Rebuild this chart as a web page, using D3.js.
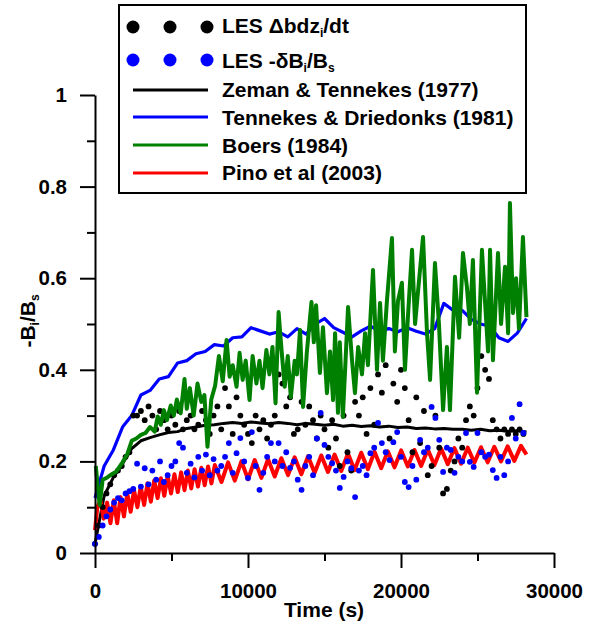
<!DOCTYPE html>
<html>
<head>
<meta charset="utf-8">
<script src="https://cdn.jsdelivr.net/npm/d3@7"></script>
<style>
body { margin: 0; background: #fff; }
text { font-family: "Liberation Sans", Arial, sans-serif; font-weight: bold; fill: #000; }
</style>
</head>
<body>
<script>
// Tick values
var xTicks = [0, 10000, 20000, 30000];
var xMinor = [5000, 15000, 25000];
var yTicks = [0, 0.2, 0.4, 0.6, 0.8, 1];
var yMinor = [0.1, 0.3, 0.5, 0.7, 0.9];

// Model curves share one time grid (s)
var modelTime = [0, 600, 1200, 1800, 2400, 3000, 3600, 4200, 4800, 5400, 6000, 6600, 7200, 7800, 8400, 9000,
	9600, 10200, 10800, 11400, 12000, 12600, 13200, 13800, 14400, 15000, 15600, 16200, 16800, 17400, 18000, 18600,
	19200, 19800, 20400, 21000, 21600, 22200, 22800, 23400, 24000, 24600, 25200, 25800, 26400, 27000, 27600, 28200];

// Tennekes & Driedonks (1981)
var tennekesDriedonks = [0.12, 0.19, 0.225, 0.275, 0.30, 0.345, 0.355, 0.38, 0.385, 0.415, 0.42, 0.435, 0.44, 0.455, 0.452, 0.47,
	0.472, 0.492, 0.485, 0.478, 0.483, 0.472, 0.49, 0.478, 0.50, 0.512, 0.492, 0.482, 0.472, 0.485, 0.495, 0.485,
	0.49, 0.483, 0.492, 0.484, 0.478, 0.49, 0.545, 0.53, 0.53, 0.51, 0.50, 0.495, 0.47, 0.462, 0.48, 0.512];

// Zeman & Tennekes (1977)
var zemanTennekes = [0.02, 0.125, 0.165, 0.195, 0.228, 0.245, 0.252, 0.258, 0.263, 0.265, 0.272, 0.275, 0.279, 0.28, 0.283, 0.285,
	0.283, 0.286, 0.284, 0.282, 0.285, 0.283, 0.28, 0.283, 0.281, 0.279, 0.281, 0.277, 0.279, 0.276, 0.278, 0.275,
	0.277, 0.274, 0.275, 0.272, 0.273, 0.271, 0.272, 0.27, 0.27, 0.268, 0.27, 0.267, 0.268, 0.266, 0.267, 0.264];

// Boers (1984)
var boersTime = [50, 300, 500, 800, 1100, 1400, 1800, 2100, 2400, 2700, 3000, 3300, 3600, 3900, 4100, 4300, 4500, 4700, 4950,
	5150, 5350, 5600, 5850, 6000, 6200, 6450, 6700, 6950, 7150, 7350, 7600, 7850, 8100, 8350, 8600, 8800, 9000, 9250,
	9450, 9650, 9850, 10100, 10300, 10550, 10750, 10950, 11200, 11400, 11600, 11800, 12000, 12200, 12400, 12600, 12800,
	13050, 13200, 13400, 13600, 13850, 14150, 14300, 14450, 14700, 14900, 15160, 15360, 15560, 15690, 15880, 16000,
	16200, 16540, 16800, 16990, 17200, 17450, 17650, 17840, 18170, 18430, 18630, 18820, 19080, 19410, 19600, 19800,
	20060, 20260, 20460, 20720, 20920, 21110, 21440, 21700, 21900, 22220, 22480, 22750, 23000, 23200, 23530, 23800,
	24050, 24310, 24500, 24700, 24970, 25290, 25490, 25690, 25820, 26010, 26340, 26540, 26800, 27000, 27120, 27320,
	27520, 27710, 27970, 28200];
var boers = [0.19, 0.105, 0.16, 0.165, 0.172, 0.178, 0.198, 0.215, 0.245, 0.25, 0.258, 0.262, 0.275, 0.265, 0.298, 0.28, 0.312, 0.29, 0.322,
	0.3, 0.335, 0.305, 0.38, 0.315, 0.36, 0.3, 0.37, 0.33, 0.345, 0.232, 0.335, 0.365, 0.43, 0.375, 0.465, 0.385, 0.41, 0.363,
	0.437, 0.378, 0.42, 0.334, 0.43, 0.37, 0.42, 0.36, 0.443, 0.39, 0.45, 0.327, 0.526, 0.44, 0.363, 0.43, 0.34,
	0.42, 0.39, 0.487, 0.319, 0.44, 0.548, 0.46, 0.541, 0.393, 0.493, 0.349, 0.44, 0.334, 0.48, 0.306, 0.46,
	0.297, 0.537, 0.42, 0.349, 0.45, 0.39, 0.48, 0.41, 0.618, 0.4, 0.546, 0.42, 0.55, 0.688, 0.44, 0.55,
	0.59, 0.4, 0.52, 0.662, 0.5, 0.57, 0.69, 0.48, 0.378, 0.633, 0.5, 0.312, 0.45, 0.312, 0.603, 0.47,
	0.655, 0.58, 0.5, 0.64, 0.35, 0.662, 0.55, 0.44, 0.662, 0.421, 0.655, 0.5, 0.625, 0.48, 0.764, 0.524,
	0.6, 0.49, 0.69, 0.515];

// Pino et al (2003) - sawtooth, turning points
var pinoTime = [0, 150, 350, 570, 790, 1010, 1230, 1450, 1670, 1890, 2110, 2330, 2550, 2770, 2990, 3210, 3430, 3650,
	3870, 4090, 4310, 4530, 4750, 4970, 5190, 5410, 5630, 5850, 6070, 6290, 6510, 6730, 6950, 7170, 7390, 7610, 7830,
	8265, 8700, 9135, 9570, 10005, 10440, 10875, 11310, 11745, 12180, 12615, 13050, 13485, 13920, 14355, 14790, 15225,
	15660, 16095, 16530, 16965, 17400, 17835, 18270, 18705, 19140, 19575, 20010, 20445, 20880, 21315, 21750, 22185,
	22620, 23055, 23490, 23925, 24360, 24795, 25230, 25665, 26100, 26535, 26970, 27405, 27840, 28200];
var pino = [0.05, 0.1, 0.115, 0.075, 0.11, 0.065, 0.115, 0.065, 0.122, 0.08, 0.13, 0.09, 0.137, 0.10, 0.145, 0.105, 0.152, 0.112,
	0.158, 0.12, 0.163, 0.125, 0.168, 0.13, 0.172, 0.133, 0.176, 0.137, 0.18, 0.141, 0.183, 0.145, 0.186, 0.148, 0.189, 0.152, 0.192,
	0.155, 0.198, 0.158, 0.2, 0.161, 0.203, 0.164, 0.205, 0.167, 0.207, 0.17, 0.209, 0.172, 0.211, 0.175, 0.213, 0.177,
	0.215, 0.179, 0.217, 0.181, 0.219, 0.183, 0.221, 0.185, 0.222, 0.187, 0.224, 0.189, 0.225, 0.19, 0.226, 0.192,
	0.228, 0.194, 0.229, 0.195, 0.23, 0.197, 0.231, 0.198, 0.232, 0.2, 0.233, 0.201, 0.234, 0.215];

// LES output times (s)
var lesTime = [0, 250, 500, 750, 1000, 1250, 1500, 1750, 2000, 2250,
	2500, 2750, 3000, 3250, 3500, 3750, 4000, 4250, 4500, 4750,
	5000, 5250, 5500, 5750, 6000, 6250, 6500, 6750, 7000, 7250,
	7500, 7750, 8000, 8250, 8500, 8750, 9000, 9250, 9500, 9750,
	10000, 10250, 10500, 10750, 11000, 11250, 11500, 11750, 12000, 12250,
	12500, 12750, 13000, 13250, 13500, 13750, 14000, 14250, 14500, 14750,
	15000, 15250, 15500, 15750, 16000, 16250, 16500, 16750, 17000, 17250,
	17500, 17750, 18000, 18250, 18500, 18750, 19000, 19250, 19500, 19750,
	20000, 20250, 20500, 20750, 21000, 21250, 21500, 21750, 22000, 22250,
	22500, 22750, 23000, 23250, 23500, 23750, 24000, 24250, 24500, 24750,
	25000, 25250, 25500, 25750, 26000, 26250, 26500, 26750, 27000, 27250,
	27500, 27750, 28000];

// LES Δb dz_i/dt
var lesDbdz = [0.02, 0.06, 0.10, 0.13, 0.15, 0.17, 0.18, 0.19, 0.21, 0.22,
	0.30, 0.30, 0.31, 0.29, 0.32, 0.30, 0.27, 0.31, 0.29, 0.27,
	0.30, 0.28, 0.31, 0.27, 0.29, 0.30, 0.27, 0.28, 0.31, 0.29,
	0.26, 0.30, 0.32, 0.27, 0.36, 0.32, 0.26, 0.34, 0.30, 0.28,
	0.26, 0.24, 0.30, 0.27, 0.29, 0.25, 0.28, 0.30, 0.39, 0.37,
	0.32, 0.34, 0.26, 0.27, 0.33, 0.28, 0.32, 0.29, 0.25, 0.30,
	0.27, 0.23, 0.29, 0.25, 0.19, 0.30, 0.22, 0.18, 0.33, 0.30,
	0.34, 0.26, 0.36, 0.28, 0.39, 0.35, 0.41, 0.25, 0.37, 0.33,
	0.40, 0.36, 0.29, 0.22, 0.34, 0.24, 0.31, 0.17, 0.19, 0.30,
	0.23, 0.13, 0.14, 0.18, 0.20, 0.25, 0.23, 0.29, 0.32, 0.30,
	0.36, 0.43, 0.40, 0.38, 0.29, 0.27, 0.25, 0.27, 0.26, 0.27,
	0.26, 0.27, 0.26];

// LES -δB_i/B_s
var lesDeltaB = [0.02, 0.035, 0.06, 0.08, 0.095, 0.11, 0.12, 0.115, 0.13, 0.135,
	0.14, 0.195, 0.145, 0.185, 0.15, 0.18, 0.16, 0.20, 0.155, 0.17,
	0.19, 0.20, 0.24, 0.23, 0.175, 0.195, 0.165, 0.21, 0.18, 0.215,
	0.17, 0.205, 0.18, 0.19, 0.21, 0.24, 0.175, 0.218, 0.251, 0.20,
	0.164, 0.264, 0.19, 0.138, 0.175, 0.21, 0.24, 0.20, 0.24, 0.19,
	0.22, 0.186, 0.20, 0.16, 0.138, 0.19, 0.21, 0.17, 0.25, 0.306,
	0.236, 0.21, 0.196, 0.18, 0.142, 0.166, 0.20, 0.185, 0.122, 0.18,
	0.19, 0.17, 0.218, 0.23, 0.284, 0.24, 0.22, 0.203, 0.242, 0.264,
	0.21, 0.155, 0.144, 0.19, 0.16, 0.247, 0.22, 0.23, 0.319, 0.295,
	0.247, 0.177, 0.23, 0.225, 0.175, 0.21, 0.20, 0.262, 0.199, 0.188,
	0.262, 0.22, 0.21, 0.215, 0.181, 0.164, 0.21, 0.17, 0.20, 0.295,
	0.25, 0.325, 0.262];

// Set dimensions
var width = 592, height = 625;
var margin = { top: 95, right: 38, bottom: 72, left: 95 };

var x = d3.scaleLinear().domain([0, 30000]).range([margin.left, width - margin.right]);
var y = d3.scaleLinear().domain([0, 1]).range([height - margin.bottom, margin.top]);

var svg = d3
	.select('body')
	.append('svg')
	.attr('width', width)
	.attr('height', height);

function zip(t, v) {
	return t.map((d, i) => [d, v[i]]);
}

var line = d3
	.line()
	.x(d => x(d[0]))
	.y(d => y(d[1]));

// Model curves
var curves = [
	{ data: zip(modelTime, tennekesDriedonks), color: '#0000ff', w: 3.2 },
	{ data: zip(modelTime, zemanTennekes), color: '#000000', w: 3 },
	{ data: zip(pinoTime, pino), color: '#ff0000', w: 4 }
];
curves.forEach(c => {
	svg
		.append('path')
		.datum(c.data)
		.attr('d', line)
		.attr('fill', 'none')
		.attr('stroke', c.color)
		.attr('stroke-width', c.w)
		.attr('stroke-linejoin', 'round');
});

// LES dots
svg
	.append('g')
	.selectAll('circle')
	.data(zip(lesTime, lesDbdz))
	.enter()
	.append('circle')
	.attr('cx', d => x(d[0]))
	.attr('cy', d => y(d[1]))
	.attr('r', 2.9)
	.attr('fill', '#000');

svg
	.append('g')
	.selectAll('circle')
	.data(zip(lesTime, lesDeltaB))
	.enter()
	.append('circle')
	.attr('cx', d => x(d[0]))
	.attr('cy', d => y(d[1]))
	.attr('r', 2.9)
	.attr('fill', '#0000ff');

// Boers on top
svg
	.append('path')
	.datum(zip(boersTime, boers))
	.attr('d', line)
	.attr('fill', 'none')
	.attr('stroke', '#008000')
	.attr('stroke-width', 4)
	.attr('stroke-linejoin', 'round');

// Axes
function styleAxis(g) {
	g.selectAll('path.domain').attr('stroke-width', 2);
	g.selectAll('.tick line').attr('stroke-width', 2);
	g.selectAll('.tick text').style('font-size', '20.5px').attr('fill', '#000');
}

svg
	.append('g')
	.attr('transform', 'translate(0,' + y(0) + ')')
	.call(d3.axisBottom(x).tickValues(xTicks).tickSize(15).tickSizeOuter(0).tickPadding(15).tickFormat(d3.format('d')))
	.call(styleAxis);
svg
	.append('g')
	.attr('transform', 'translate(0,' + y(0) + ')')
	.call(d3.axisBottom(x).tickValues(xMinor).tickSize(8).tickFormat(''))
	.call(styleAxis)
	.select('.domain')
	.remove();

svg
	.append('g')
	.attr('transform', 'translate(' + x(0) + ',0)')
	.call(d3.axisLeft(y).tickValues(yTicks).tickSize(15).tickSizeOuter(0).tickPadding(13).tickFormat(d3.format('')))
	.call(styleAxis);
svg
	.append('g')
	.attr('transform', 'translate(' + x(0) + ',0)')
	.call(d3.axisLeft(y).tickValues(yMinor).tickSize(8).tickFormat(''))
	.call(styleAxis)
	.select('.domain')
	.remove();

// Axis labels
svg
	.append('text')
	.attr('x', 324)
	.attr('y', 617)
	.attr('text-anchor', 'middle')
	.style('font-size', '21px')
	.text('Time (s)');

var yl = svg
	.append('text')
	.attr('transform', 'translate(35,321) rotate(-90)')
	.attr('text-anchor', 'middle')
	.style('font-size', '21px');
yl.append('tspan').text('-B');
yl.append('tspan').attr('dy', 4).style('font-size', '12px').text('i');
yl.append('tspan').attr('dy', -4).text('/B');
yl.append('tspan').attr('dy', 4).style('font-size', '12px').text('s');

// Legend
var legend = svg.append('g');
legend
	.append('rect')
	.attr('x', 119)
	.attr('y', 5)
	.attr('width', 407)
	.attr('height', 188)
	.attr('fill', '#fff')
	.attr('stroke', '#000')
	.attr('stroke-width', 2);

var dotRows = [
	{ cy: 27, color: '#000' },
	{ cy: 60, color: '#0000ff' }
];
dotRows.forEach(r => {
	[133, 170, 207].forEach(cx => {
		legend.append('circle').attr('cx', cx).attr('cy', r.cy).attr('r', 6.5).attr('fill', r.color);
	});
});

var t1 = legend.append('text').attr('x', 222).attr('y', 33).style('font-size', '21px');
t1.append('tspan').text('LES \u0394bdz');
t1.append('tspan').attr('dy', 4).style('font-size', '12px').text('i');
t1.append('tspan').attr('dy', -4).text('/dt');

var t2 = legend.append('text').attr('x', 222).attr('y', 68).style('font-size', '21px');
t2.append('tspan').text('LES -\u03B4B');
t2.append('tspan').attr('dy', 4).style('font-size', '12px').text('i');
t2.append('tspan').attr('dy', -4).text('/B');
t2.append('tspan').attr('dy', 4).style('font-size', '12px').text('s');

var lineRows = [
	{ name: 'Zeman & Tennekes (1977)', color: '#000', cy: 90, base: 97 },
	{ name: 'Tennekes & Driedonks (1981)', color: '#0000ff', cy: 117, base: 125 },
	{ name: 'Boers (1984)', color: '#008000', cy: 145, base: 153 },
	{ name: 'Pino et al (2003)', color: '#ff0000', cy: 173, base: 180 }
];
lineRows.forEach(r => {
	legend
		.append('line')
		.attr('x1', 133)
		.attr('x2', 208)
		.attr('y1', r.cy)
		.attr('y2', r.cy)
		.attr('stroke', r.color)
		.attr('stroke-width', 3);
	legend
		.append('text')
		.attr('x', 222)
		.attr('y', r.base)
		.style('font-size', '21px')
		.text(r.name);
});
</script>
</body>
</html>
